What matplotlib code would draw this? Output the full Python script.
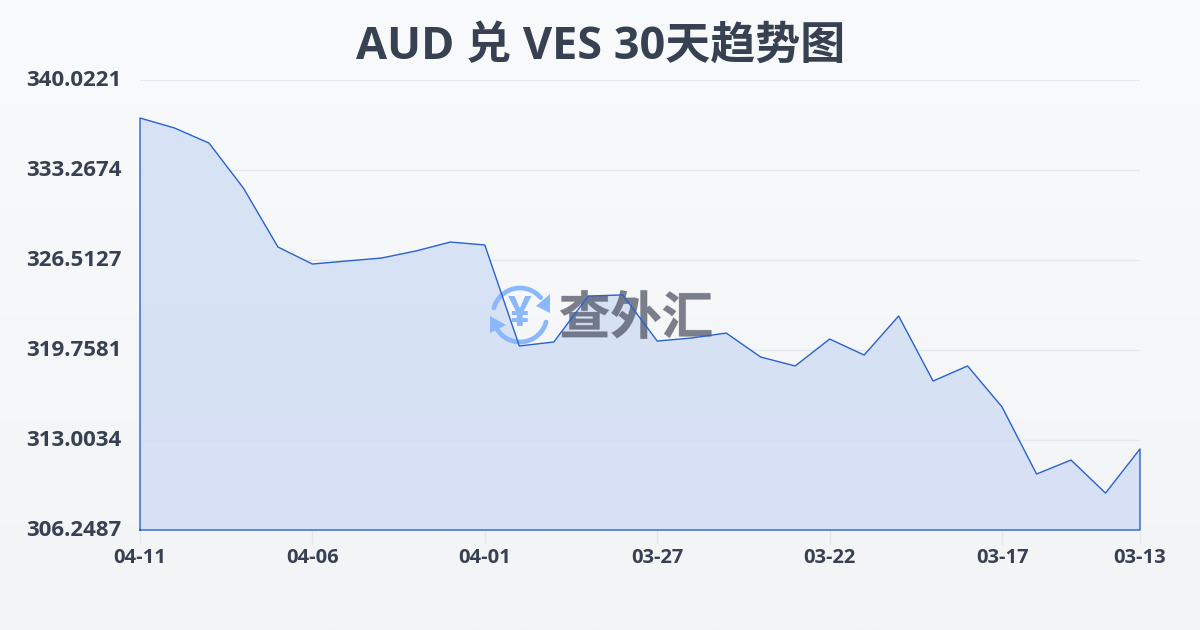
import numpy as np
import matplotlib
matplotlib.use('Agg')
import matplotlib.pyplot as plt
import matplotlib.patheffects as pe
from matplotlib.patches import Arc, Polygon
from matplotlib.colors import LinearSegmentedColormap
from matplotlib.transforms import ScaledTranslation

plt.rcParams['font.family'] = ['Open Sans', 'Noto Sans CJK SC', 'DejaVu Sans']

# data, newest first
dates = ['04-11', '04-10', '04-09', '04-08', '04-07', '04-06', '04-05', '04-04', '04-03', '04-02',
         '04-01', '03-31', '03-30', '03-29', '03-28', '03-27', '03-26', '03-25', '03-24', '03-23',
         '03-22', '03-21', '03-20', '03-19', '03-18', '03-17', '03-16', '03-15', '03-14', '03-13']
rates = [337.17, 336.42, 335.29, 331.91, 327.49, 326.21, 326.44, 326.66, 327.19, 327.86,
         327.64, 320.06, 320.36, 323.81, 323.89, 320.43, 320.66, 321.03, 319.23, 318.56,
         320.58, 319.38, 322.31, 317.43, 318.56, 315.48, 310.45, 311.50, 309.02, 312.33]
y_ticks = [306.2487, 313.0034, 319.7581, 326.5127, 333.2674, 340.0221]
x_tick_idx = [0, 5, 10, 15, 20, 25, 29]
title = 'AUD 兑 VES 30天趋势图'
watermark = '查外汇'

W, H = 1200, 630
fig = plt.figure(figsize=(W / 100, H / 100), dpi=100)

# page background
bg = fig.add_axes([0, 0, 1, 1], zorder=0)
bg_cmap = LinearSegmentedColormap.from_list('bg', ['#f9fafb', '#f3f4f6'])
bg.imshow(np.linspace(0, 1, 256).reshape(-1, 1), aspect='auto', cmap=bg_cmap, extent=[0, 1, 0, 1])
bg.axis('off')

# chart
plot_rect = [140 / W, 1 - 530 / H, 1000 / W, 450 / H]
ax = fig.add_axes(plot_rect, zorder=1)
ax.patch.set_alpha(0)
x = np.arange(len(rates))

ax.set_yticks(y_ticks)
ax.set_yticklabels(['%.4f' % v for v in y_ticks])
ax.set_xticks(x_tick_idx)
ax.set_xticklabels([dates[i] for i in x_tick_idx])
ax.grid(axis='y', color='#e2e8f0', linewidth=1)
ax.set_axisbelow(True)
for s in ax.spines.values():
    s.set_visible(False)
ax.tick_params(axis='y', length=0, pad=47.5, labelsize=16, labelcolor='#374151')
ax.tick_params(axis='x', length=10, width=1, color='#e2e8f0', pad=3, labelsize=14.5, labelcolor='#374151')
# y labels sit 2px above their gridlines
up = ScaledTranslation(0, 2 / 72 * 0.72, fig.dpi_scale_trans)
for t in ax.get_yticklabels():
    t.set_ha('center')
    t.set_fontweight('bold')
    t.set_transform(t.get_transform() + up)
for t in ax.get_xticklabels():
    t.set_fontweight('bold')

# area fill with a slight vertical gradient, clipped to the series
fill_poly = ax.fill_between(x, rates, y_ticks[0], color='none', linewidth=0)
fill_cmap = LinearSegmentedColormap.from_list('fill', ['#d3ddf4', '#d2e1f6'])
grad = ax.imshow(np.linspace(0, 1, 256).reshape(-1, 1), aspect='auto', cmap=fill_cmap, origin='lower',
                 extent=[0, len(rates) - 1, y_ticks[0], y_ticks[-1]], alpha=0.85, zorder=1)
grad.set_clip_path(fill_poly.get_paths()[0], ax.transData)
ax.set_xlim(0, len(rates) - 1)
ax.set_ylim(y_ticks[0], y_ticks[-1])

fig.text(0.5 + 1 / W, 1 - 47 / H, title, ha='center', va='center', fontsize=32.4, fontweight='bold', color='#374151')

# watermark in pixel coordinates
wm = fig.add_axes([0, 0, 1, 1], zorder=2)
wm.patch.set_alpha(0)
wm.set_xlim(0, W)
wm.set_ylim(H, 0)
wm.axis('off')
blue = '#8ab8fb'
wm.add_patch(Arc((520, 315), 54, 54, theta1=195, theta2=320, color=blue, linewidth=3.4, capstyle='round'))
wm.add_patch(Arc((520, 315), 54, 54, theta1=15, theta2=150, color=blue, linewidth=3.4, capstyle='round'))
wm.add_patch(Polygon([[550, 294], [550, 313], [536, 306]], color=blue, linewidth=0))
wm.add_patch(Polygon([[490, 316], [506, 325], [490, 333]], color=blue, linewidth=0))
wm.text(520, 315, '¥', ha='center', va='center', fontsize=30, fontweight='bold', color=blue)
wm_text = wm.text(636, 321, watermark, ha='center', va='center', fontsize=37, fontweight='bold',
                  color='#4b5060', alpha=0.62)
wm_text.set_path_effects([pe.Stroke(linewidth=0.7, foreground='#4b5060', alpha=0.25), pe.Normal()])

# outline on its own layer so it stays above the watermark;
# it closes down both sides and along the bottom
top = fig.add_axes(plot_rect, zorder=3)
top.patch.set_alpha(0)
top.axis('off')
line_x = np.r_[0, x, x[-1], 0]
line_y = np.r_[y_ticks[0], rates, y_ticks[0], y_ticks[0]]
top.plot(line_x, line_y, color='#2a62cc', linewidth=1, clip_on=False)
top.set_xlim(0, len(rates) - 1)
top.set_ylim(y_ticks[0], y_ticks[-1])

fig.savefig('out.png', dpi=100)
